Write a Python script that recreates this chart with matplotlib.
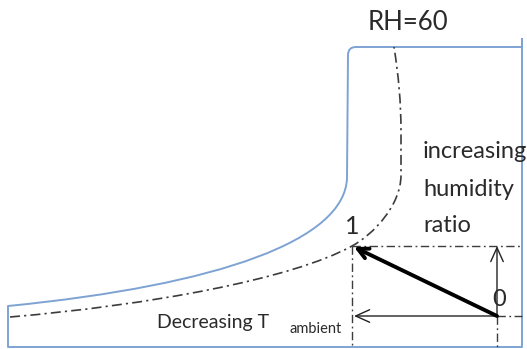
import numpy as np
import matplotlib
matplotlib.use("Agg")
import matplotlib.pyplot as plt
from matplotlib.path import Path
from matplotlib.patches import PathPatch

plt.rcParams['font.family'] = ['Lato', 'DejaVu Sans']

# outline of the blue region (pixel coords, y down); codes say how the
# library joins the points (L = line, C = cubic bezier control/end point)
blue_x = [522, 522, 8, 8, 220, 345, 347, 348, 348, 356, 522, 522]
blue_y = [38, 347, 347, 306, 285, 240, 178, 55, 47, 47, 47, 38]
blue_codes = ['M', 'L', 'L', 'L', 'C', 'C', 'C', 'L', 'Q', 'Q', 'L', 'L']

# RH=60 curve (dash-dot), passes through state 1
rh_x = [10, 150, 292, 352, 374, 401, 401, 401, 401, 394]
rh_y = [317, 305, 279, 246, 234, 205, 175, 130, 90, 47]
rh_codes = ['M', 'C', 'C', 'C', 'C', 'C', 'C', 'L', 'Q', 'Q']

# state points
p0 = (497, 316)
p1 = (352, 246)
x_right = 522
y_bottom = 347

code_map = {'M': Path.MOVETO, 'L': Path.LINETO, 'C': Path.CURVE4, 'Q': Path.CURVE3}


def make_path(xs, ys, codes):
    return Path(np.column_stack([xs, ys]), [code_map[c] for c in codes])


fig = plt.figure(figsize=(5.27, 3.49), dpi=100)
ax = fig.add_axes([0, 0, 1, 1])
ax.set_xlim(0, 527)
ax.set_ylim(349, 0)
ax.axis('off')

dd = (0, (6, 2.5, 1.3, 2.5))
gray = '#3c3c3c'

ax.add_patch(PathPatch(make_path(blue_x, blue_y, blue_codes), facecolor='none',
                       edgecolor='#7ea3d3', lw=1.4, joinstyle='round'))
ax.add_patch(PathPatch(make_path(rh_x, rh_y, rh_codes), facecolor='none',
                       edgecolor=gray, lw=1.2, linestyle=dd))

# guide lines through the states
ax.plot([p1[0], x_right], [p1[1], p1[1]], color=gray, lw=1.0, linestyle=dd)
ax.plot([p1[0], p1[0]], [p1[1], y_bottom], color=gray, lw=1.0, linestyle=dd)
ax.plot([p0[0], x_right], [p0[1], p0[1]], color=gray, lw=1.0, linestyle=dd)
ax.plot([p0[0], p0[0]], [p0[1], y_bottom], color=gray, lw=1.0, linestyle=dd)

# thin component arrows
ax.annotate('', xy=(p1[0] + 2, p0[1]), xytext=p0,
            arrowprops=dict(arrowstyle='->,head_length=1.0,head_width=0.45', color='#222222', lw=1.0,
                            shrinkA=0, shrinkB=0))
ax.annotate('', xy=(p0[0], p1[1]), xytext=p0,
            arrowprops=dict(arrowstyle='->,head_length=1.0,head_width=0.45', color='#222222', lw=1.0,
                            shrinkA=0, shrinkB=0))
# process 0 -> 1
ax.annotate('', xy=(p1[0] + 2, p1[1] + 1), xytext=p0,
            arrowprops=dict(arrowstyle='->,head_length=0.75,head_width=0.38', color='black', lw=2.8,
                            shrinkA=0, shrinkB=0))

tc = '#2a2a2a'
ax.text(408, 22, 'RH=60', fontsize=18.5, color=tc, ha='center', va='center')
ax.text(423, 152, 'increasing', fontsize=17, color=tc, ha='left', va='center')
ax.text(423, 189, 'humidity', fontsize=17, color=tc, ha='left', va='center')
ax.text(423, 226, 'ratio', fontsize=17, color=tc, ha='left', va='center')
ax.text(352, 226, '1', fontsize=18, color=tc, ha='center', va='center')
ax.text(499, 300, '0', fontsize=17, color=tc, ha='center', va='center')
ax.text(157, 328, 'Decreasing T', fontsize=14, color=tc, ha='left', va='baseline')
ax.text(290, 333, 'ambient', fontsize=10.5, color=tc, ha='left', va='baseline')

fig.savefig('out.png', dpi=100)
